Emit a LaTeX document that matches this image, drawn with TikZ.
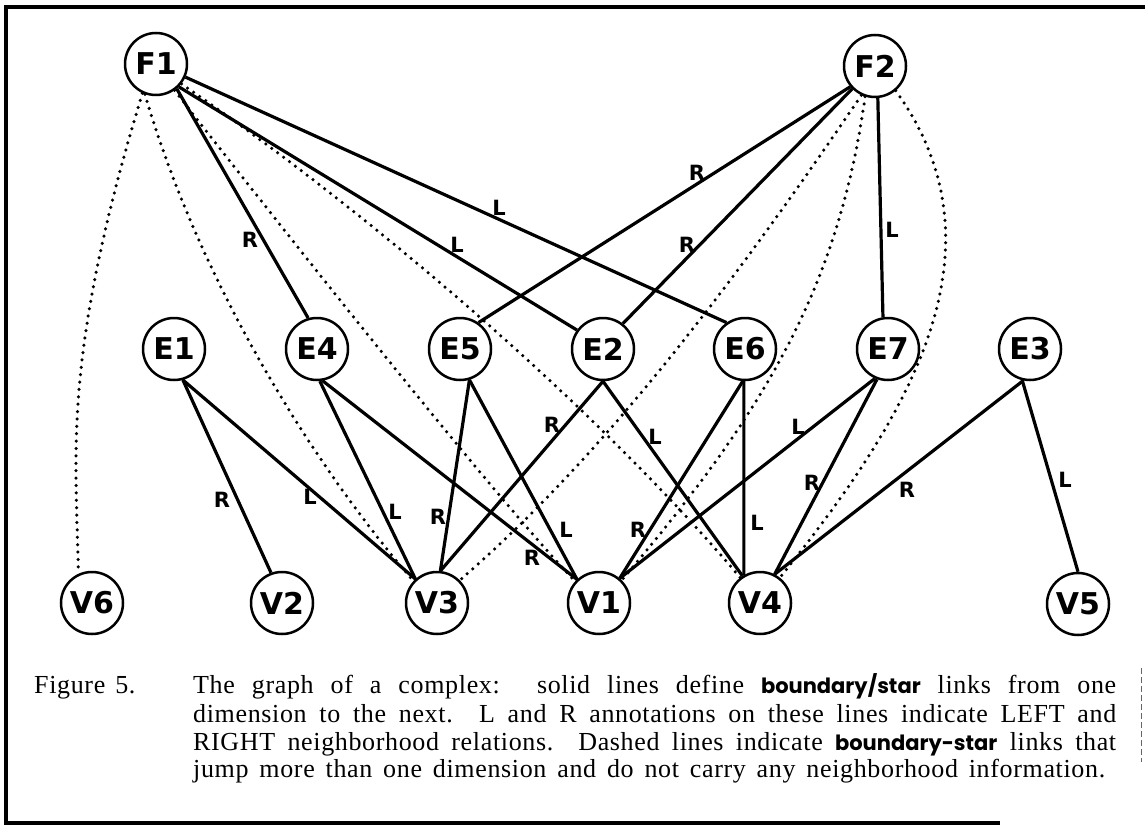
\documentclass[tikz,border=0pt]{standalone}
\usepackage{fontspec}
\setmainfont{Liberation Serif}
\newfontfamily\labelfont{DejaVu Sans}
\newfontfamily\capfont{Liberation Serif}[LetterSpace=2.5]
\newfontfamily\futura{Poppins}
\begin{document}
\begin{tikzpicture}[x=1pt,y=-1pt,
  cellnode/.style={circle, draw, line width=2.5pt, minimum size=62pt, inner sep=0pt,
    font=\labelfont\bfseries\fontsize{30}{30}\selectfont},
  link/.style={line width=3.2pt},
  jump/.style={line width=3.5pt, line cap=round, dash pattern=on 0pt off 7.4pt},
  tag/.style={font=\labelfont\bfseries\fontsize{21}{21}\selectfont, inner sep=0pt},
  frame/.style={line width=3.4pt},
  capline/.style={anchor=base west, inner sep=0pt, font=\capfont\fontsize{26}{28}\selectfont},
  boldterm/.style={font=\futura\bfseries\fontsize{21}{28}\selectfont},
]
\useasboundingbox (0,0) rectangle (1145,829);

% border of the figure
\draw[frame] (1145,7) -- (6,7) -- (6,823) -- (1000,823);
\draw[line width=1pt, black!60, dash pattern=on 6pt off 3pt] (1141,668) -- (1141,762);

% faces
\node[cellnode] (F1) at (156,64) {F1};
\node[cellnode] (F2) at (875,66) {F2};
% edges
\node[cellnode] (E1) at (174,349) {E1};
\node[cellnode] (E4) at (317,349) {E4};
\node[cellnode] (E5) at (460,349) {E5};
\node[cellnode] (E2) at (603,349) {E2};
\node[cellnode] (E6) at (745,349) {E6};
\node[cellnode] (E7) at (888,349) {E7};
\node[cellnode] (E3) at (1030,349) {E3};
% vertices
\node[cellnode] (V6) at (92,603) {V6};
\node[cellnode] (V2) at (282,603) {V2};
\node[cellnode] (V3) at (437,603) {V3};
\node[cellnode] (V1) at (599,603) {V1};
\node[cellnode] (V4) at (760,603) {V4};
\node[cellnode] (V5) at (1078,604) {V5};

% boundary/star links between neighbouring dimensions
\draw[link] (F1.-50) -- (E4.106);
\draw[link] (F1.-45) -- (E2.144);
\draw[link] (F1.-24) -- (E6.125);
\draw[link] (F2.220) -- (E5.55);
\draw[link] (F2.225) -- (E2.52);
\draw[link] (F2.-85) -- (E7.99);
\draw[link] (E1.-74) -- (V2.110);
\draw[link] (E1.-74) -- (V3.132);
\draw[link] (E4.-85) -- (V3.132);
\draw[link] (E4.-80) -- (V1.133);
\draw[link] (E5.-73) -- (V3.84);
\draw[link] (E5.-73) -- (V1.133);
\draw[link] (E2.-90) -- (V3.84);
\draw[link] (E2.-90) -- (V4.123);
\draw[link] (E6.-94) -- (V1.50);
\draw[link] (E6.-92) -- (V4.120);
\draw[link] (E7.246) -- (V1.50);
\draw[link] (E7.250) -- (V4.63);
\draw[link] (E3.258) -- (V4.63);
\draw[link] (E3.256) -- (V5.90);

% links that jump from faces straight to vertices
\draw[jump] (F1.245) .. controls (62,358) and (76,450) .. (V6.115);
\draw[jump] (F1.250) .. controls (201,286) and (315,467) .. (V3.137);
\draw[jump] (F1.-55) .. controls (260,200) and (480,480) .. (V1.138);
\draw[jump] (F1.-38) .. controls (388,225) and (611,424) .. (V4.128);
\draw[jump] (F2.245) .. controls (749,261) and (612,449) .. (V3.45);
\draw[jump] (F2.252) .. controls (838,294) and (758,419) .. (V1.45);
\draw[jump] (F2.-50) .. controls (1012,252) and (905,422) .. (V4.52);

% LEFT / RIGHT annotations
\node[tag] (t1)  at (250,240) {R};
\node[tag] (t2)  at (457,245) {L};
\node[tag] (t3)  at (499,208) {L};
\node[tag] (t4)  at (697,173) {R};
\node[tag] (t5)  at (687,245) {R};
\node[tag] (t6)  at (892,230) {L};
\node[tag] (t7)  at (222,500) {R};
\node[tag] (t8)  at (310,497) {L};
\node[tag] (t9)  at (395,512) {L};
\node[tag] (t10) at (438,517) {R};
\node[tag] (t11) at (532,558) {R};
\node[tag] (t12) at (566,530) {L};
\node[tag] (t13) at (552,425) {R};
\node[tag] (t14) at (655,437) {L};
\node[tag] (t15) at (638,530) {R};
\node[tag] (t16) at (757,523) {L};
\node[tag] (t17) at (798,427) {L};
\node[tag] (t18) at (812,483) {R};
\node[tag] (t19) at (907,490) {R};
\node[tag] (t20) at (1065,480) {L};

% caption
\node[capline] (fig) at (34,693) {Figure\hspace{10pt}5.};
\node[capline] (c1) at (193,693) {\makebox[923pt][s]{The graph of a complex:\hspace{8pt} solid lines define {\futura\bfseries\fontsize{21}{28}\selectfont boundary/star} links from one}};
\node[capline] (c2) at (193,722) {\makebox[923pt][s]{dimension to the next. L and R annotations on these lines indicate LEFT and}};
\node[capline] (c3) at (193,750) {\makebox[923pt][s]{RIGHT neighborhood relations. Dashed lines indicate {\futura\bfseries\fontsize{21}{28}\selectfont boundary-star} links that}};
\node[capline] (c4) at (193,777) {\makebox[912pt][s]{jump more than one dimension and do not carry any neighborhood information.}};
\end{tikzpicture}
\end{document}
